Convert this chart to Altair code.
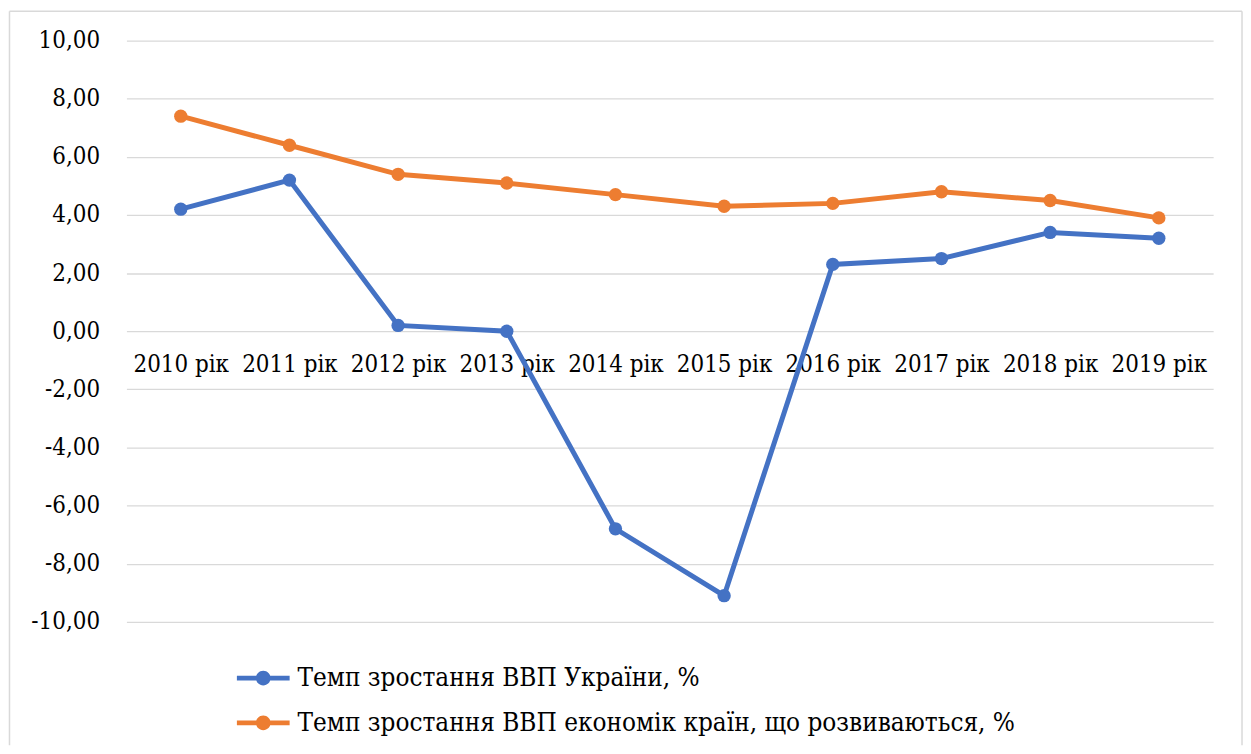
import altair as alt
import pandas as pd

years = ["2010 рік", "2011 рік", "2012 рік", "2013 рік", "2014 рік",
         "2015 рік", "2016 рік", "2017 рік", "2018 рік", "2019 рік"]
ukraine = [4.2, 5.2, 0.2, 0.0, -6.8, -9.1, 2.3, 2.5, 3.4, 3.2]
emerging = [7.4, 6.4, 5.4, 5.1, 4.7, 4.3, 4.4, 4.8, 4.5, 3.9]
series_names = ["Темп зростання ВВП України, %",
                "Темп зростання ВВП економік країн, що розвиваються, %"]
series_colors = ["#4472C4", "#ED7D31"]
y_ticks = [-10, -8, -6, -4, -2, 0, 2, 4, 6, 8, 10]

rows = []
for name, vals in zip(series_names, [ukraine, emerging]):
    for i, (yr, v) in enumerate(zip(years, vals)):
        rows.append({"year": yr, "value": v, "series": name, "order": i})
df = pd.DataFrame(rows)

FONT = "DejaVu Serif Condensed, DejaVu Serif"
FS = 24

x_enc = alt.X("year:N", sort=years, scale=alt.Scale(padding=0.5),
              axis=alt.Axis(title=None, labelAngle=0, ticks=False, domain=False,
                            grid=False, offset=-292, labelPadding=21,
                            labelFontSize=FS, labelFont=FONT, labelColor="#000000",
                            labelOverlap=False, labelLimit=0))
y_enc = alt.Y("value:Q", scale=alt.Scale(domain=[-10, 10], nice=False),
              axis=alt.Axis(title=None, values=y_ticks, ticks=False, domain=False,
                            grid=True, gridColor="#d9d9d9", gridWidth=1.3,
                            labelFontSize=FS, labelFont=FONT, labelColor="#000000",
                            labelPadding=27,
                            labelExpr="replace(replace(format(datum.value, '.2f'), '.', ','), '\u2212', '-')"))
color_enc = alt.Color("series:N", sort=series_names,
                      scale=alt.Scale(domain=series_names, range=series_colors),
                      legend=alt.Legend(title=None, orient="none", legendX=111, legendY=614,
                                        direction="vertical", padding=0,
                                        symbolType="M-1,-0.09H1V0.09H-1Z M0.28,0A0.28,0.28,0,1,1,-0.28,0A0.28,0.28,0,1,1,0.28,0Z",
                                        symbolSize=2809, symbolStrokeWidth=0,
                                        symbolOpacity=1, labelOffset=8,
                                        labelFontSize=26, labelFont=FONT,
                                        labelColor="#000000", labelLimit=0,
                                        rowPadding=5))

lines = alt.Chart(df).mark_line(strokeWidth=5).encode(
    x=x_enc, y=y_enc, color=color_enc, order="order:Q")
points = alt.Chart(df).mark_circle(size=180, opacity=1).encode(
    x=x_enc, y=y_enc, color=color_enc)

frame_src = alt.Chart(pd.DataFrame({"k": [0]}))
left_edge = frame_src.mark_rule(color="#d9d9d9", strokeWidth=1.5).encode(
    x=alt.value(-117.5), y=alt.value(-29.5), y2=alt.value(708))
right_edge = frame_src.mark_rule(color="#d9d9d9", strokeWidth=1.5).encode(
    x=alt.value(1121), y=alt.value(-29.5), y2=alt.value(708))
top_edge = frame_src.mark_rule(color="#d9d9d9", strokeWidth=1.5).encode(
    x=alt.value(-117.5), x2=alt.value(1121), y=alt.value(-29.5))

chart = alt.layer(left_edge, right_edge, top_edge, lines, points).properties(
    width=1092, height=584, padding=0, background="#ffffff"
).configure_view(stroke=None)

chart.save("out.html", embed_options={"renderer": "svg", "actions": False})
